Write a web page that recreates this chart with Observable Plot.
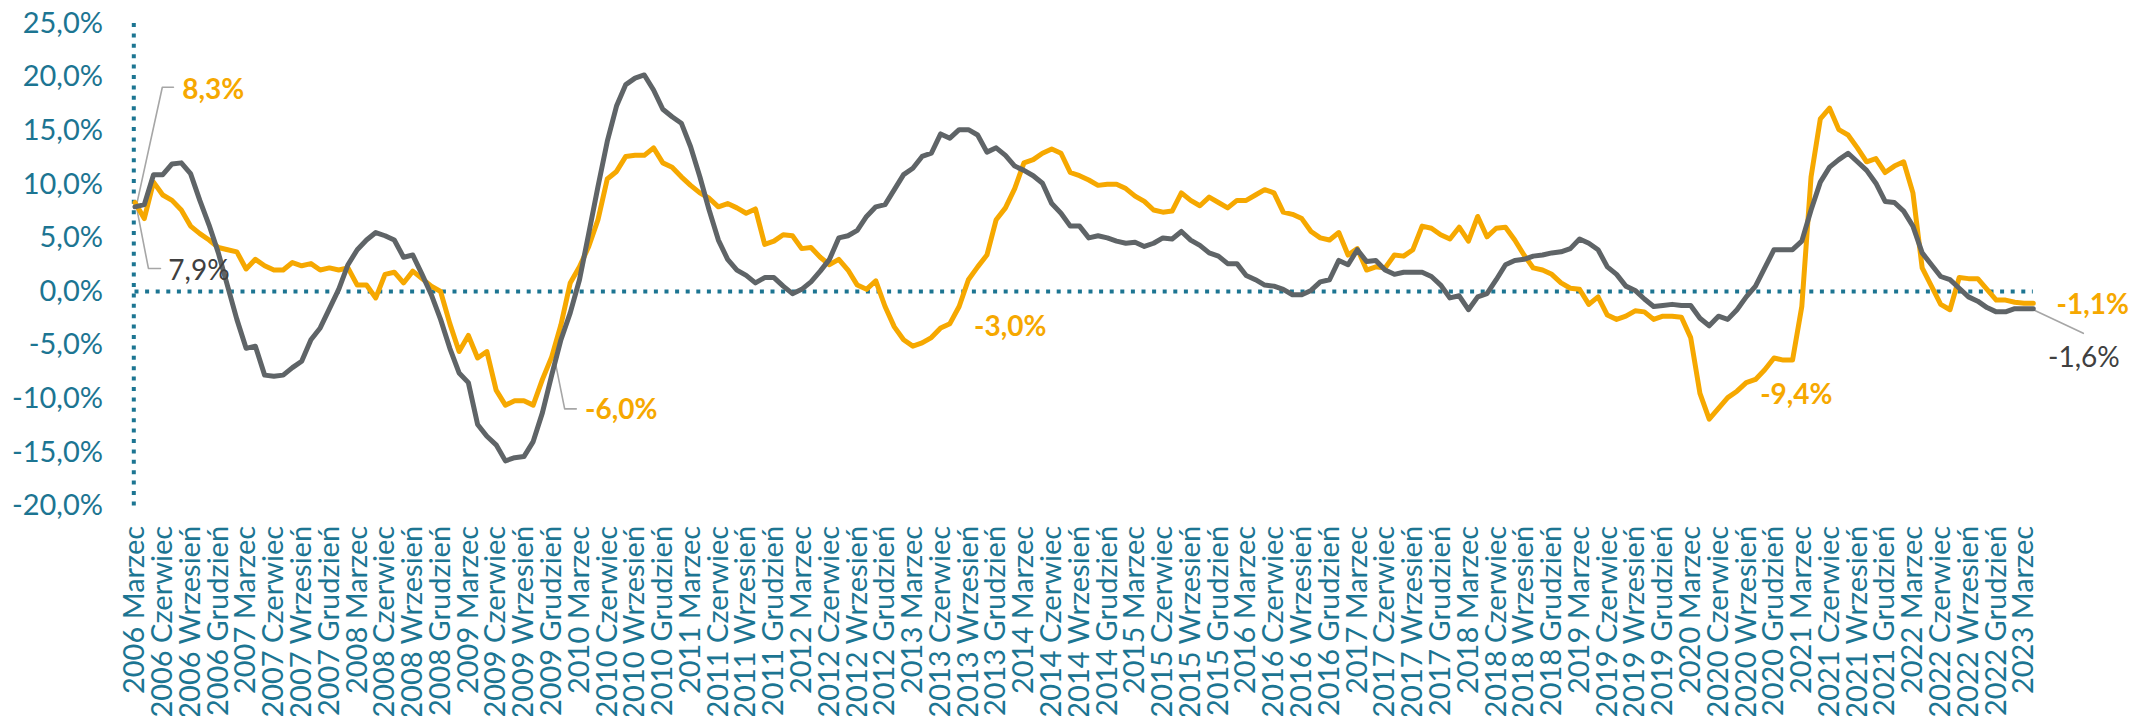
<!DOCTYPE html>
<html>
<head>
<meta charset="utf-8">
<script src="https://cdn.jsdelivr.net/npm/d3@7"></script>
<script src="https://cdn.jsdelivr.net/npm/@observablehq/plot@0.6"></script>
<style>
  html, body { margin: 0; padding: 0; background: #ffffff; }
  #chart svg { display: block; }
</style>
</head>
<body>
<div id="chart"></div>
<script>
// ---- Data ----
const years = d3.range(2006, 2024);
const monthNames = ["Styczeń","Luty","Marzec","Kwiecień","Maj","Czerwiec","Lipiec","Sierpień","Wrzesień","Październik","Listopad","Grudzień"];
const quarterMonths = ["Marzec", "Czerwiec", "Wrzesień", "Grudzień"];

// Monthly categories: 2006 Marzec ... 2023 Kwiecień
const categories = [];
for (const y of years) for (let m = 0; m < 12; m++) {
  if ((y === 2006 && m < 2) || (y === 2023 && m > 3)) continue;
  categories.push(`${y} ${monthNames[m]}`);
}

// Tick labels (every third month)
const tickLabels = [];
for (const y of years) for (const q of quarterMonths) {
  if (y === 2023 && q !== "Marzec") continue;
  tickLabels.push(`${y} ${q}`);
}

const seriesOrange = [
  8.3, 6.8, 10.2, 9.0, 8.5, 7.6, 6.1, 5.4, 4.8, 4.1, 3.9, 3.7,
  2.1, 3.0, 2.4, 2.0, 2.0, 2.7, 2.4, 2.6, 2.0, 2.2, 2.0, 2.2,
  0.6, 0.6, -0.6, 1.6, 1.8, 0.8, 1.9, 1.2, 0.5, 0.0, -3.0, -5.6,
  -4.1, -6.2, -5.6, -9.2, -10.6, -10.2, -10.2, -10.6, -8.2, -6.1, -3.1, 0.8,
  2.3, 4.2, 6.7, 10.5, 11.2, 12.6, 12.7, 12.7, 13.4, 12.0, 11.6, 10.7,
  9.9, 9.2, 8.7, 7.9, 8.2, 7.8, 7.3, 7.7, 4.4, 4.7, 5.3, 5.2,
  4.0, 4.1, 3.2, 2.5, 3.0, 2.0, 0.6, 0.2, 1.0, -1.4, -3.3, -4.5,
  -5.1, -4.8, -4.3, -3.4, -3.0, -1.4, 1.1, 2.3, 3.4, 6.7, 7.8, 9.6,
  12.0, 12.3, 12.9, 13.3, 12.9, 11.1, 10.8, 10.4, 9.9, 10.0, 10.0, 9.6,
  8.9, 8.4, 7.6, 7.4, 7.5, 9.2, 8.5, 8.0, 8.8, 8.3, 7.8, 8.5,
  8.5, 9.0, 9.5, 9.2, 7.4, 7.2, 6.8, 5.6, 5.0, 4.8, 5.5, 3.4,
  4.0, 2.0, 2.3, 2.2, 3.4, 3.3, 3.9, 6.1, 5.9, 5.3, 4.9, 6.0,
  4.7, 7.0, 5.1, 5.9, 6.0, 4.8, 3.4, 2.2, 2.0, 1.6, 0.8, 0.3,
  0.2, -1.2, -0.5, -2.2, -2.6, -2.3, -1.8, -1.9, -2.6, -2.3, -2.3, -2.4,
  -4.3, -9.5, -11.9, -10.9, -9.9, -9.3, -8.5, -8.2, -7.3, -6.2, -6.4, -6.4,
  -1.4, 10.7, 16.1, 17.1, 15.1, 14.6, 13.4, 12.1, 12.4, 11.1, 11.7, 12.1,
  9.2, 2.2, 0.5, -1.2, -1.7, 1.3, 1.2, 1.2, 0.2, -0.8, -0.8, -1.0,
  -1.1, -1.1
];

const seriesGray = [
  7.9, 8.1, 10.9, 10.9, 11.9, 12.0, 11.0, 8.5, 6.2, 3.6, 0.5, -2.6,
  -5.3, -5.1, -7.8, -7.9, -7.8, -7.1, -6.5, -4.5, -3.4, -1.6, 0.2, 2.5,
  3.9, 4.8, 5.5, 5.2, 4.8, 3.2, 3.4, 1.6, -0.3, -2.6, -5.3, -7.6,
  -8.5, -12.4, -13.5, -14.3, -15.8, -15.5, -15.4, -14.0, -11.3, -7.8, -4.5, -2.0,
  1.1, 5.4, 9.8, 14.0, 17.3, 19.3, 19.9, 20.2, 18.8, 17.0, 16.3, 15.7,
  13.5, 10.7, 7.6, 4.8, 3.0, 2.0, 1.5, 0.8, 1.3, 1.3, 0.5, -0.2,
  0.2, 0.9, 1.9, 3.0, 5.0, 5.2, 5.7, 7.0, 7.9, 8.1, 9.5, 10.9,
  11.5, 12.6, 12.9, 14.7, 14.3, 15.1, 15.1, 14.6, 13.0, 13.4, 12.7, 11.7,
  11.3, 10.8, 10.1, 8.2, 7.3, 6.1, 6.1, 5.0, 5.2, 5.0, 4.7, 4.5,
  4.6, 4.2, 4.5, 5.0, 4.9, 5.6, 4.8, 4.3, 3.6, 3.3, 2.6, 2.6,
  1.5, 1.1, 0.6, 0.5, 0.2, -0.3, -0.3, 0.1, 0.9, 1.1, 2.9, 2.5,
  3.9, 2.8, 2.9, 2.0, 1.6, 1.8, 1.8, 1.8, 1.4, 0.6, -0.6, -0.4,
  -1.7, -0.5, -0.2, 1.1, 2.5, 2.9, 3.0, 3.3, 3.4, 3.6, 3.7, 4.0,
  4.9, 4.5, 3.9, 2.3, 1.6, 0.5, 0.1, -0.7, -1.4, -1.3, -1.2, -1.3,
  -1.3, -2.5, -3.2, -2.3, -2.6, -1.7, -0.5, 0.5, 2.2, 3.9, 3.9, 3.9,
  4.7, 7.6, 10.2, 11.6, 12.3, 12.9, 12.1, 11.3, 10.1, 8.4, 8.3, 7.5,
  6.1, 3.6, 2.5, 1.4, 1.1, 0.3, -0.5, -0.9, -1.5, -1.9, -1.9, -1.6,
  -1.6, -1.6
];

const yTicks = [-20, -15, -10, -5, 0, 5, 10, 15, 20, 25];

// Annotations: [text, month index, value, kind]
const annotations = [
  {text: "8,3%", m: 5.1, v: 18.75, kind: "orange"},
  {text: "7,9%", m: 3.6, v: 1.95, kind: "gray"},
  {text: "-6,0%", m: 48.6, v: -11.1, kind: "orange"},
  {text: "-3,0%", m: 90.6, v: -3.35, kind: "orange"},
  {text: "-9,4%", m: 175.5, v: -9.7, kind: "orange"},
  {text: "-1,1%", m: 207.5, v: -1.3, kind: "orange"},
  {text: "-1,6%", m: 206.6, v: -6.25, kind: "gray"}
];
// Leader lines (month index, value)
const leaders = [
  {id: "a", pts: [[0.2, 8.2], [2.95, 19.05], [4.15, 19.05]]},
  {id: "b", pts: [[0.2, 7.7], [1.45, 2.15], [2.75, 2.15]]},
  {id: "c", pts: [[45.2, -5.8], [46.4, -10.95], [47.65, -10.95]]},
  {id: "d", pts: [[205.0, -1.7], [210.4, -3.9]]}
];

// ---- Build ----
const teal = "#1C7592";
const orange = "#F6A800";
const gray = "#5F6467";
const font = "Lato, 'Open Sans', sans-serif";

const orangeData = seriesOrange.map((v, i) => ({m: i, v, cat: categories[i]}));
const grayData = seriesGray.map((v, i) => ({m: i, v, cat: categories[i]}));
const leaderData = leaders.flatMap(l => l.pts.map(([m, v]) => ({id: l.id, m, v})));
const tickIdx = tickLabels.map((_, i) => i * 3);

const chart = Plot.plot({
  width: 2131,
  height: 716,
  marginLeft: 134.5,
  marginRight: 98.2,
  marginTop: 23,
  marginBottom: 210.6,
  style: {fontFamily: font, color: teal, background: "#ffffff", overflow: "visible"},
  x: {domain: [0, categories.length - 1], axis: null},
  y: {domain: [-20, 25], axis: null},
  marks: [
    Plot.axisY(yTicks, {
      tickSize: 0, tickPadding: 32, fontSize: 29, label: null,
      tickFormat: d => d.toFixed(1).replace(".", ",") + "%"
    }),
    Plot.axisX(tickIdx, {
      tickSize: 0, tickPadding: 20, fontSize: 29, label: null, tickRotate: -90,
      tickFormat: i => tickLabels[i / 3]
    }),
    Plot.ruleY([0], {x1: 0, x2: categories.length - 1, stroke: teal, strokeWidth: 4, strokeDasharray: "4,6.6"}),
    Plot.ruleX([0], {y1: -20, y2: 25, stroke: teal, strokeWidth: 4, strokeDasharray: "4,6.4", dx: -1.2}),
    Plot.line(leaderData, {x: "m", y: "v", z: "id", stroke: "#A6A6A6", strokeWidth: 1.6}),
    Plot.line(orangeData, {x: "m", y: "v", stroke: orange, strokeWidth: 5, strokeLinejoin: "round", strokeLinecap: "round"}),
    Plot.line(grayData, {x: "m", y: "v", stroke: gray, strokeWidth: 5, strokeLinejoin: "round", strokeLinecap: "round"}),
    Plot.text(annotations.filter(a => a.kind === "orange"), {
      x: "m", y: "v", text: "text", textAnchor: "start", fill: orange,
      fontWeight: "bold", fontSize: 28
    }),
    Plot.text(annotations.filter(a => a.kind === "gray"), {
      x: "m", y: "v", text: "text", textAnchor: "start", fill: "#404040",
      fontSize: 28
    })
  ]
});
document.getElementById("chart").appendChild(chart);
</script>
</body>
</html>
